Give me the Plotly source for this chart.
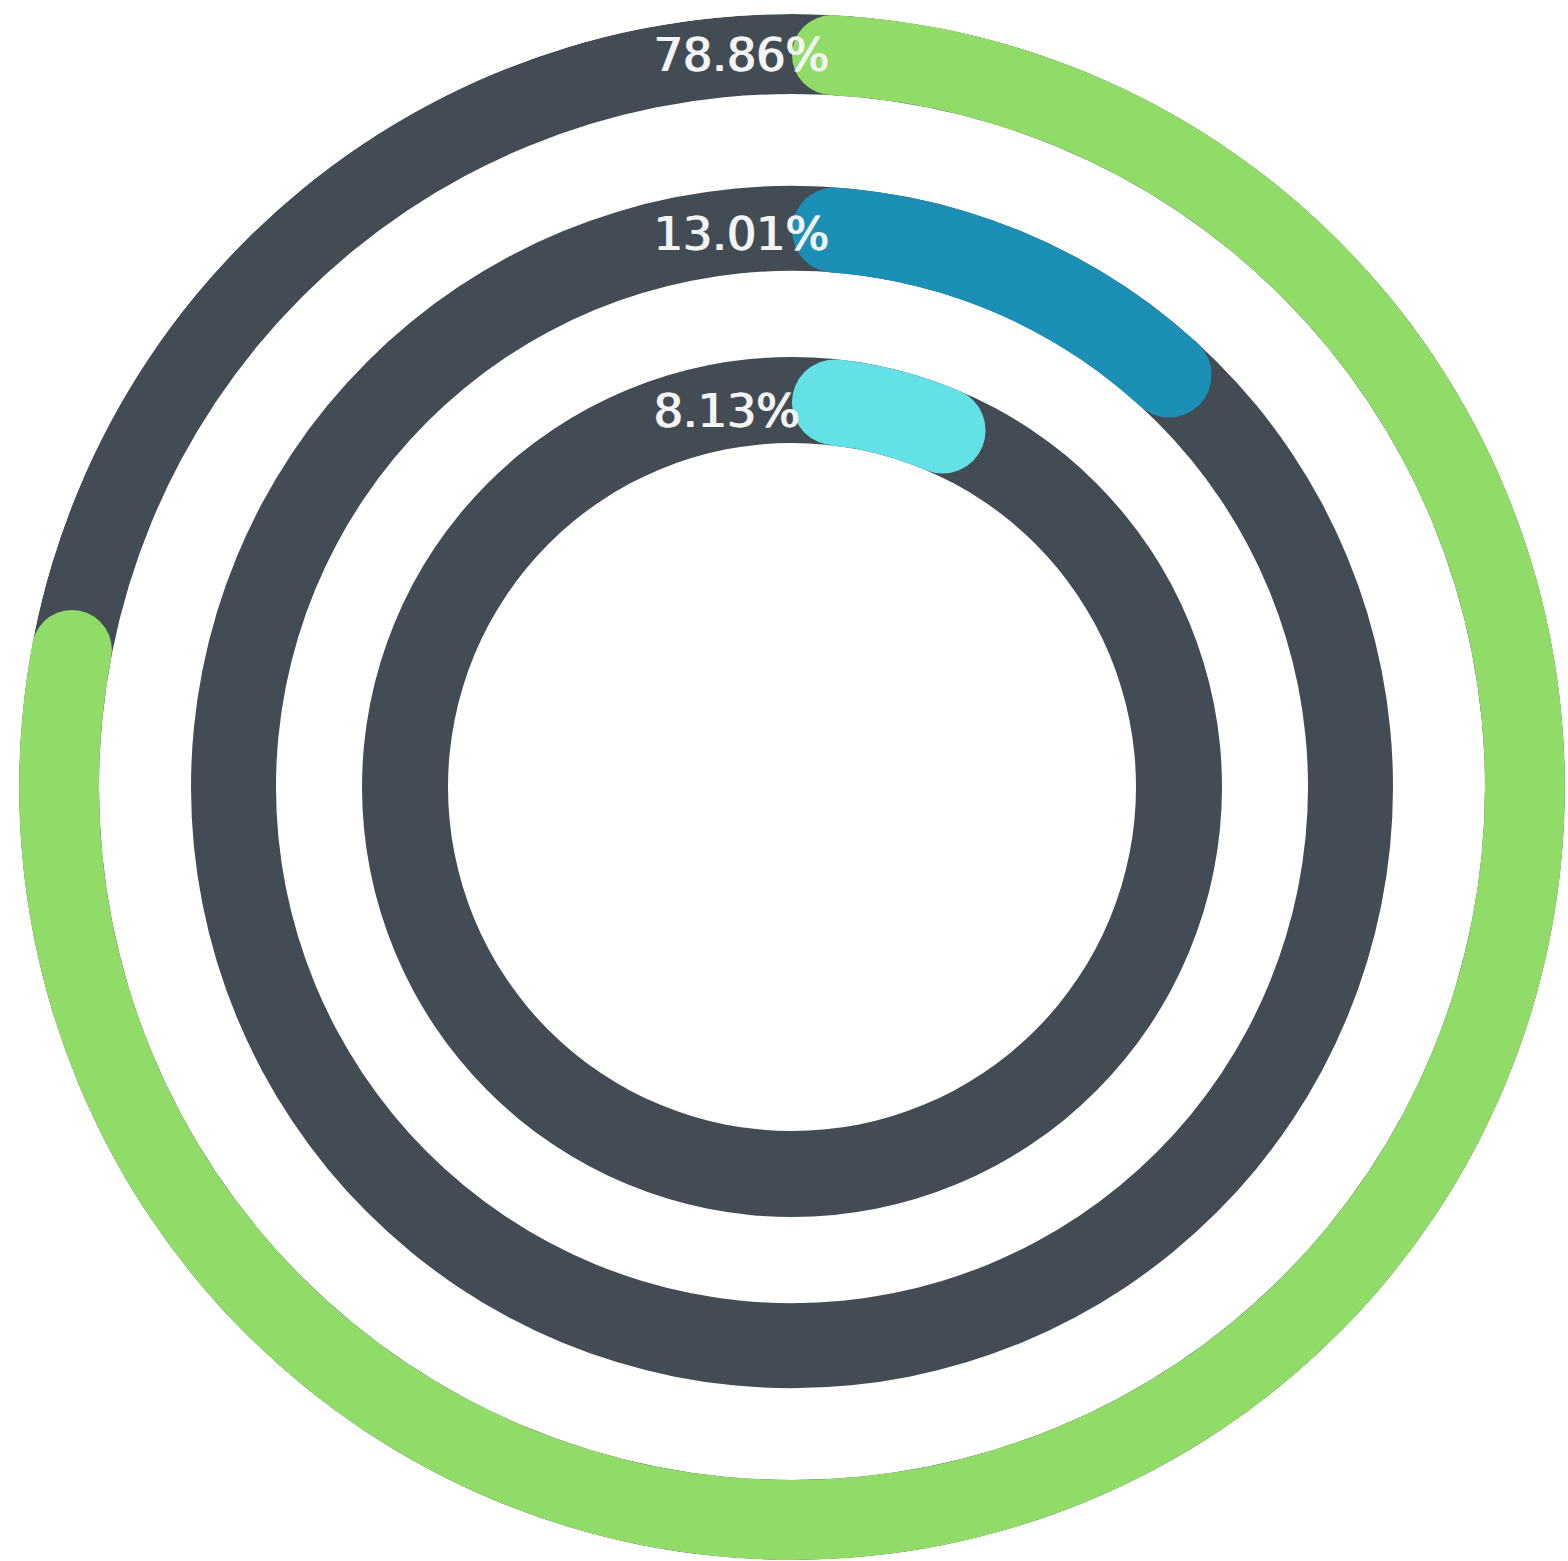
import math
import plotly.graph_objects as go

# ---- data ----
labels = ["78.86%", "13.01%", "8.13%"]
values = [78.86, 13.01, 8.13]          # percent of full circle
colors = ["#91dc68", "#1b8fb6", "#63e1e6"]
track_color = "#434c55"

# ---- ring geometry (radial units == pixels) ----
ring_inner = [693, 516, 344]
ring_width = [80, 85, 86]
R = 773

W, H = 1568, 1561
cx, cy = 792, 787

fig = go.Figure()

# gray tracks
for ri, rw in zip(ring_inner, ring_width):
    fig.add_trace(go.Barpolar(r=[rw], base=[ri], theta=[180], width=[360],
                              marker=dict(color=track_color, line=dict(width=0)),
                              showlegend=False, hoverinfo="skip"))

# progress arcs with rounded caps
for v, c, ri, rw in zip(values, colors, ring_inner, ring_width):
    mid = ri + rw / 2
    cap = math.degrees((rw / 2) / mid)
    total = v * 3.6
    a0, a1 = cap, total - cap
    fig.add_trace(go.Barpolar(r=[rw], base=[ri], theta=[(a0 + a1) / 2], width=[a1 - a0],
                              marker=dict(color=c, line=dict(width=0)),
                              showlegend=False, hoverinfo="skip"))
    fig.add_trace(go.Scatterpolar(r=[mid, mid], theta=[a0, a1], mode="markers",
                                  marker=dict(size=rw, color=c, line=dict(width=0)),
                                  showlegend=False, hoverinfo="skip"))

# labels
label_y = [55, 234, 411]
for t, yy in zip(labels, label_y):
    fig.add_annotation(text=t, x=651 / W, y=1 - yy / H, xref="paper", yref="paper",
                       xanchor="left", yanchor="middle", showarrow=False,
                       font=dict(family="DejaVu Sans", size=46, color="#f4f4f4",
                                 shadow="1.5px 0px 0px #f4f4f4"))

fig.update_layout(
    width=W, height=H,
    margin=dict(l=0, r=0, t=0, b=0),
    paper_bgcolor="white",
    polar=dict(
        domain=dict(x=[(cx - R) / W, (cx + R) / W], y=[(H - cy - R) / H, (H - cy + R) / H]),
        bgcolor="white",
        radialaxis=dict(range=[0, R], visible=False, showgrid=False),
        angularaxis=dict(direction="clockwise", rotation=90, visible=False, showgrid=False),
    ),
)

fig.write_html("out.html", config={"displayModeBar": False},
               post_script="document.body.style.margin='0';document.body.style.overflow='hidden';")
